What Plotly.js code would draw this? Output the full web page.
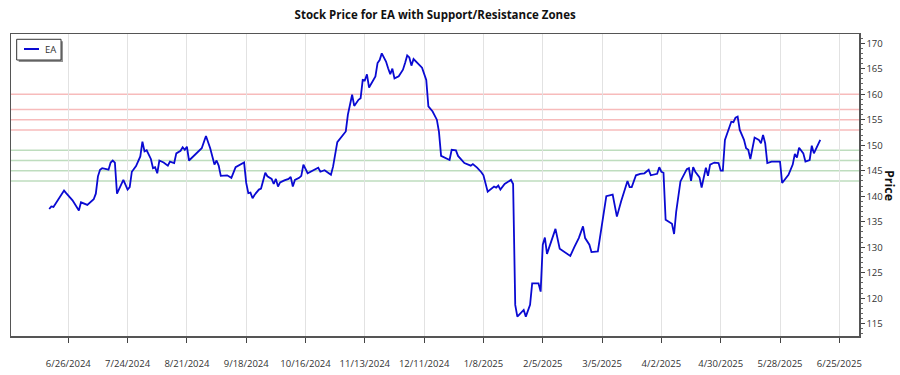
<!DOCTYPE html>
<html>
<head>
<meta charset="utf-8">
<script src="https://cdn.plot.ly/plotly-3.0.1.min.js"></script>
<style>html,body{margin:0;padding:0;background:#fff;}#chart{width:900px;height:375px;}</style>
</head>
<body>
<div id="chart"></div>
<script>
const dates = [
"2024-06-17","2024-06-18","2024-06-19","2024-06-21","2024-06-24","2024-06-25","2024-06-26","2024-06-27","2024-06-28",
"2024-07-01","2024-07-02","2024-07-05","2024-07-08","2024-07-09","2024-07-10","2024-07-11","2024-07-12","2024-07-15",
"2024-07-16","2024-07-17","2024-07-18","2024-07-19","2024-07-20","2024-07-22","2024-07-24","2024-07-25","2024-07-26",
"2024-07-28","2024-07-30","2024-07-31","2024-08-01","2024-08-02","2024-08-04","2024-08-05","2024-08-06","2024-08-07",
"2024-08-08","2024-08-10","2024-08-12","2024-08-13","2024-08-15","2024-08-16","2024-08-18","2024-08-19","2024-08-20",
"2024-08-21","2024-08-22","2024-08-24","2024-08-26","2024-08-28","2024-08-30","2024-09-01","2024-09-03","2024-09-04",
"2024-09-05","2024-09-06","2024-09-09","2024-09-11","2024-09-13","2024-09-16","2024-09-17","2024-09-18","2024-09-19",
"2024-09-20","2024-09-21","2024-09-22","2024-09-24","2024-09-25","2024-09-27","2024-09-28","2024-09-30","2024-10-01",
"2024-10-02","2024-10-03","2024-10-04","2024-10-06","2024-10-08","2024-10-09","2024-10-10","2024-10-11","2024-10-13",
"2024-10-14","2024-10-15","2024-10-17","2024-10-19","2024-10-22","2024-10-23","2024-10-25","2024-10-28","2024-10-29",
"2024-10-31","2024-11-02","2024-11-04","2024-11-05","2024-11-07","2024-11-08","2024-11-10","2024-11-11","2024-11-12",
"2024-11-13","2024-11-14","2024-11-15","2024-11-17","2024-11-18","2024-11-19","2024-11-20","2024-11-21","2024-11-23",
"2024-11-24","2024-11-25","2024-11-26","2024-11-27","2024-11-29","2024-12-01","2024-12-02","2024-12-03","2024-12-04",
"2024-12-05","2024-12-06","2024-12-08","2024-12-10","2024-12-12","2024-12-13","2024-12-15","2024-12-17","2024-12-18",
"2024-12-19","2024-12-23","2024-12-24","2024-12-26","2024-12-27","2024-12-30","2025-01-02","2025-01-03","2025-01-05",
"2025-01-07","2025-01-08","2025-01-10","2025-01-12","2025-01-13","2025-01-14","2025-01-15","2025-01-16","2025-01-18",
"2025-01-21","2025-01-22","2025-01-23","2025-01-24","2025-01-27","2025-01-28","2025-01-30","2025-01-31","2025-02-03",
"2025-02-04","2025-02-05","2025-02-06","2025-02-07","2025-02-11","2025-02-13","2025-02-18","2025-02-20","2025-02-22",
"2025-02-24","2025-02-25","2025-02-27","2025-02-28","2025-03-03","2025-03-07","2025-03-10","2025-03-12","2025-03-14",
"2025-03-17","2025-03-18","2025-03-19","2025-03-21","2025-03-23","2025-03-25","2025-03-27","2025-03-28","2025-03-31",
"2025-04-01","2025-04-02","2025-04-03","2025-04-04","2025-04-07","2025-04-08","2025-04-09","2025-04-11","2025-04-14",
"2025-04-15","2025-04-16","2025-04-17","2025-04-18","2025-04-20","2025-04-21","2025-04-23","2025-04-24","2025-04-25",
"2025-04-27","2025-04-29","2025-04-30","2025-05-01","2025-05-02","2025-05-04","2025-05-05","2025-05-06","2025-05-07",
"2025-05-08","2025-05-09","2025-05-11","2025-05-12","2025-05-13","2025-05-14","2025-05-16","2025-05-18","2025-05-19",
"2025-05-20","2025-05-21","2025-05-22","2025-05-24","2025-05-28","2025-05-29","2025-06-01","2025-06-03","2025-06-04",
"2025-06-05","2025-06-06","2025-06-08","2025-06-09","2025-06-11","2025-06-12","2025-06-13","2025-06-16"
];
const prices = [
137.5,138.0,137.9,139.2,141.1,140.6,140.1,139.5,139.2,
137.2,138.8,138.3,139.4,140.5,143.9,145.2,145.5,145.2,
146.6,147.0,146.6,140.5,141.3,143.2,141.3,141.8,144.8,
145.9,147.8,150.7,148.8,149.0,147.3,145.5,145.7,144.5,
147.0,146.6,146.0,146.8,146.5,148.4,148.9,149.6,149.1,
149.7,147.0,147.8,148.6,149.4,151.8,149.4,146.2,147.0,
146.0,144.0,144.1,143.6,145.7,146.5,146.6,142.6,140.6,
140.7,139.6,140.3,141.3,141.5,144.6,143.9,143.4,142.4,
143.4,141.9,142.7,143.1,143.4,143.8,141.9,143.2,143.6,
144.0,146.2,144.5,144.9,145.6,144.8,145.1,144.2,145.8,
150.6,151.7,152.7,156.0,159.9,157.7,158.9,159.2,162.8,
162.7,163.9,161.3,162.6,163.5,166.1,166.7,168.0,166.4,
165.1,163.9,165.0,163.1,163.5,164.8,166.1,167.6,167.2,
165.6,166.9,166.1,165.2,162.8,157.6,156.6,155.0,152.6,
147.9,147.1,149.1,149.0,147.9,146.5,146.0,146.3,145.6,
144.7,144.1,140.9,141.5,141.9,141.7,142.1,141.3,142.4,
143.2,142.4,118.7,116.4,117.7,116.4,118.7,122.9,122.9,
121.3,130.5,131.9,128.7,133.6,129.7,128.3,130.1,131.8,
134.1,131.8,130.5,129.05,129.2,140.0,140.3,136.0,139.0,
143.0,141.8,141.8,144.1,144.4,144.5,145.2,144.1,144.4,
145.7,144.8,144.6,135.4,134.6,132.6,137.0,142.9,145.3,
145.5,143.0,145.7,144.8,143.7,141.7,145.6,144.0,146.2,
146.6,146.5,145.0,145.0,151.05,153.5,154.6,154.5,155.4,
155.6,153.0,151.05,149.4,149.1,147.3,151.5,151.05,150.4,
152.0,150.4,146.5,146.8,146.8,142.6,144.2,146.2,148.3,
147.6,149.5,148.4,146.8,147.1,149.9,148.4,151.05
];
const resistanceLevels = [153, 155, 157, 160];
const supportLevels = [143, 145, 147, 149];
const xTickVals = ["2024-06-26","2024-07-24","2024-08-21","2024-09-18","2024-10-16","2024-11-13","2024-12-11",
  "2025-01-08","2025-02-05","2025-03-05","2025-04-02","2025-04-30","2025-05-28","2025-06-25"];
const xTickText = ["6/26/2024","7/24/2024","8/21/2024","9/18/2024","10/16/2024","11/13/2024","12/11/2024",
  "1/8/2025","2/5/2025","3/5/2025","4/2/2025","4/30/2025","5/28/2025","6/25/2025"];
const seriesName = "EA";
const lineColor = '#0a0ad2';

const shapes = [];
resistanceLevels.forEach(v => shapes.push({type:'line', xref:'paper', x0:0, x1:1, yref:'y', y0:v, y1:v,
  line:{color:'rgba(240,120,120,0.5)', width:1.5}, layer:'below'}));
supportLevels.forEach(v => shapes.push({type:'line', xref:'paper', x0:0, x1:1, yref:'y', y0:v, y1:v,
  line:{color:'rgba(110,180,110,0.45)', width:1.5}, layer:'below'}));
// legend box (shadow, frame, sample line)
shapes.push({type:'rect', xref:'paper', yref:'paper', x0:0.0091, x1:0.0613, y0:0.9073, y1:0.9759,
  fillcolor:'rgba(110,110,110,0.75)', line:{width:0}, layer:'above'});
shapes.push({type:'rect', xref:'paper', yref:'paper', x0:0.0067, x1:0.0590, y0:0.9139, y1:0.9825,
  fillcolor:'#fff', line:{color:'#333', width:1}, layer:'above'});
shapes.push({type:'line', xref:'paper', yref:'paper', x0:0.0153, x1:0.0330, y0:0.9503, y1:0.9503,
  line:{color:lineColor, width:2}, layer:'above'});

const font = "'Open Sans', 'Noto Sans', sans-serif";
const layout = {
  width: 900, height: 375,
  margin: {l: 11, r: 41, t: 34, b: 39},
  paper_bgcolor: '#fff', plot_bgcolor: '#fff',
  font: {family: font, size: 10, color: '#333'},
  title: {text: '<b>Stock Price for EA with Support/Resistance Zones</b>', x: 0.4835, xanchor: 'center', y: 0.96, yanchor: 'middle',
    font: {family: font, size: 11.5, color: '#111'}},
  showlegend: false,
  xaxis: {type: 'date', range: ['2024-05-29 23:00', '2025-07-04 07:00'],
    tickvals: xTickVals, ticktext: xTickText, tickangle: 0, ticks: 'outside', ticklen: 5, tickcolor: '#444',
    ticklabelstandoff: 13, showgrid: true, gridcolor: '#e2e2e2', gridwidth: 1,
    showline: true, linecolor: '#555', linewidth: 1.5, mirror: true, zeroline: false,
    tickfont: {size: 9.5, color: '#333'}},
  yaxis: {side: 'right', range: [112.6, 171.8], tickmode: 'linear', tick0: 115, dtick: 5,
    ticks: 'outside', ticklen: 4, tickcolor: '#444', showgrid: false,
    minor: {ticks: 'outside', ticklen: 2, tickcolor: '#666', dtick: 1, tick0: 115, showgrid: false},
    showline: true, linecolor: '#555', linewidth: 1.5, mirror: true, zeroline: false,
    tickfont: {size: 9.5, color: '#333'}},
  shapes: shapes,
  annotations: [
    {text: '<b>Price</b>', xref: 'paper', yref: 'paper', x: 1.0, xshift: 31, y: 0.5,
      xanchor: 'center', yanchor: 'middle', textangle: 90, showarrow: false,
      font: {family: font, size: 12.5, color: '#111'}},
    {text: seriesName, xref: 'paper', yref: 'paper', x: 0.0377, y: 0.9503, xanchor: 'left', yanchor: 'middle',
      showarrow: false, font: {family: font, size: 9.5, color: '#333'}}
  ]
};

Plotly.newPlot('chart', [{
  type: 'scatter', mode: 'lines', name: seriesName, x: dates, y: prices,
  line: {color: lineColor, width: 1.8}
}], layout, {staticPlot: true, displayModeBar: false});
</script>
</body>
</html>
